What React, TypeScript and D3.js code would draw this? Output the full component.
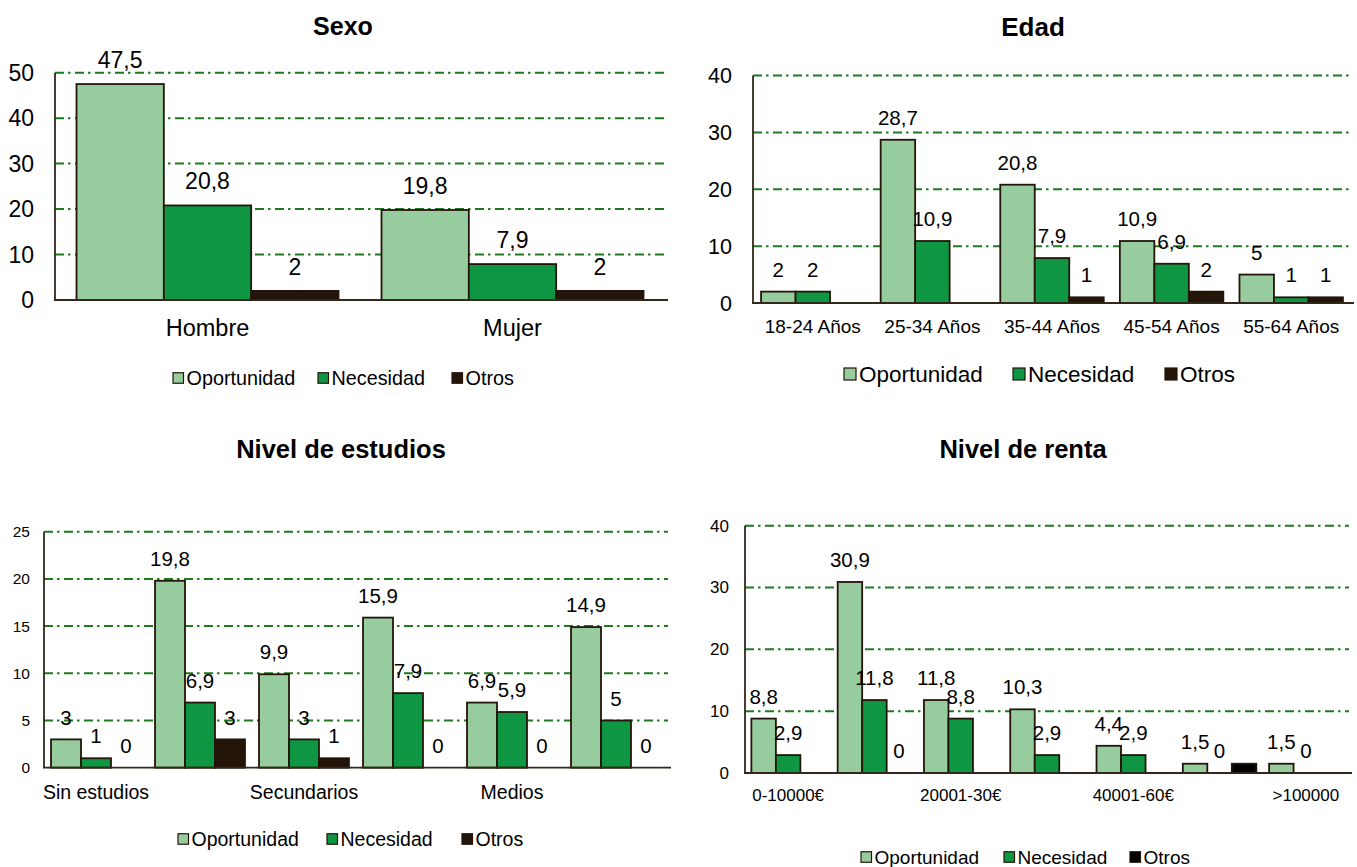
import React from "react";
import * as d3 from "d3";

// ---------- DATA ----------
const seriesNames = ["Oportunidad", "Necesidad", "Otros"];

const sexoCategories = ["Hombre", "Mujer"];
const sexoOportunidad = [47.5, 19.8];
const sexoNecesidad = [20.8, 7.9];
const sexoOtros = [2, 2];
const sexoTicks = [0, 10, 20, 30, 40, 50];

const edadCategories = ["18-24 Años", "25-34 Años", "35-44 Años", "45-54 Años", "55-64 Años"];
const edadOportunidad = [2, 28.7, 20.8, 10.9, 5];
const edadNecesidad = [2, 10.9, 7.9, 6.9, 1];
const edadOtros: (number | null)[] = [null, null, 1, 2, 1];
const edadTicks = [0, 10, 20, 30, 40];

const estudiosCategories = ["Sin estudios", "Primarios", "Secundarios", "Formación profesional", "Medios", "Superiores"];
const estudiosOportunidad = [3, 19.8, 9.9, 15.9, 6.9, 14.9];
const estudiosNecesidad = [1, 6.9, 3, 7.9, 5.9, 5];
const estudiosOtros = [0, 3, 1, 0, 0, 0];
const estudiosTicks = [0, 5, 10, 15, 20, 25];

const rentaCategories = ["0-10000€", "10001-20000€", "20001-30€", "30001-40000€", "40001-60€", "60001-100000€", ">100000"];
const rentaOportunidad = [8.8, 30.9, 11.8, 10.3, 4.4, 1.5, 1.5];
const rentaNecesidad = [2.9, 11.8, 8.8, 2.9, 2.9, 0, 0];
const rentaOtros: (number | null)[] = [null, 0, null, null, null, 1.5, null];
const rentaUnlabeled = ["2:5"]; // Otros bar in 60001-100000€ has no data label
const rentaTicks = [0, 10, 20, 30, 40];

// ---------- STYLE ----------
const FONT = "'Liberation Sans', Arial, Helvetica, sans-serif";
const C_OP = "#97cc9e";
const C_NEC = "#0f9642";
const C_OTR = "#231509";
const C_STROKE = "#231509";
const C_GRID = "#1f7a1f";
const C_AXIS = "#33261a";

type PanelProps = {
  title: string;
  titleX: number;
  titleY: number;
  titleSize: number;
  categories: string[];
  series: (number | null)[][];
  colors: string[];
  ticks: number[];
  showCat: (i: number) => boolean;
  hideLabels?: string[];
  x0: number;
  x1: number;
  yTop: number;
  yBottom: number;
  pad: number;
  tickSize: number;
  tickRight: number;
  labelSize: number;
  labelOffset: number;
  catSize: number;
  catY: number;
  legendSize: number;
  legendY: number;
  legendSq: number;
  legendX: number[];
  legendTextGap: number;
};

const fmt = (v: number) => String(v).replace(".", ",");

function Panel(p: PanelProps) {
  const yMax = p.ticks[p.ticks.length - 1];
  const y = d3.scaleLinear().domain([0, yMax]).range([p.yBottom, p.yTop]);
  const xb = d3
    .scaleBand<string>()
    .domain(p.categories)
    .range([p.x0, p.x1])
    .paddingInner(p.pad)
    .paddingOuter(p.pad / 2);
  const xs = d3
    .scaleBand<string>()
    .domain(seriesNames)
    .range([0, xb.bandwidth()])
    .padding(0);
  const hide = new Set(p.hideLabels || []);

  return (
    <g>
      <text
        x={p.titleX}
        y={p.titleY}
        textAnchor="middle"
        fontFamily={FONT}
        fontWeight="bold"
        fontSize={p.titleSize}
        fill="#000"
      >
        {p.title}
      </text>
      {/* gridlines */}
      {p.ticks
        .filter((t) => t > 0)
        .map((t) => (
          <line
            key={"g" + t}
            x1={p.x0}
            x2={p.x1}
            y1={y(t)}
            y2={y(t)}
            stroke={C_GRID}
            strokeWidth={2}
            strokeDasharray="9,4,2.5,4.5"
          />
        ))}
      {/* tick labels */}
      {p.ticks.map((t) => (
        <text
          key={"t" + t}
          x={p.tickRight}
          y={y(t)}
          dy="0.35em"
          textAnchor="end"
          fontFamily={FONT}
          fontSize={p.tickSize}
          fill="#000"
        >
          {t}
        </text>
      ))}
      {/* bars */}
      {p.categories.map((c, ci) =>
        p.series.map((s, si) => {
          const v = s[ci];
          if (v === null || v === undefined || v <= 0) return null;
          const bx = (xb(c) as number) + (xs(seriesNames[si]) as number);
          return (
            <rect
              key={"b" + ci + "-" + si}
              x={bx}
              y={y(v)}
              width={xs.bandwidth()}
              height={y(0) - y(v)}
              fill={p.colors[si]}
              stroke={C_STROKE}
              strokeWidth={1.8}
            />
          );
        })
      )}
      {/* axes */}
      <line x1={p.x0} x2={p.x0} y1={p.yTop} y2={p.yBottom} stroke={C_AXIS} strokeWidth={1.8} />
      <line x1={p.x0 - 1} x2={p.x1 + 3} y1={p.yBottom} y2={p.yBottom} stroke={C_AXIS} strokeWidth={1.8} />
      {/* data labels */}
      {p.categories.map((c, ci) =>
        p.series.map((s, si) => {
          const v = s[ci];
          if (v === null || v === undefined) return null;
          if (hide.has(si + ":" + ci)) return null;
          const cx = (xb(c) as number) + (xs(seriesNames[si]) as number) + xs.bandwidth() / 2;
          return (
            <text
              key={"l" + ci + "-" + si}
              x={cx}
              y={y(v) - p.labelOffset}
              dy="0.35em"
              textAnchor="middle"
              fontFamily={FONT}
              fontSize={p.labelSize}
              fill="#000"
            >
              {fmt(v)}
            </text>
          );
        })
      )}
      {/* category labels */}
      {p.categories.map((c, ci) =>
        p.showCat(ci) ? (
          <text
            key={"c" + ci}
            x={(xb(c) as number) + xb.bandwidth() / 2}
            y={p.catY}
            dy="0.35em"
            textAnchor="middle"
            fontFamily={FONT}
            fontSize={p.catSize}
            fill="#000"
          >
            {c}
          </text>
        ) : null
      )}
      {/* legend */}
      {seriesNames.map((n, i) => (
        <g key={"lg" + i}>
          <rect
            x={p.legendX[i]}
            y={p.legendY - p.legendSq / 2}
            width={p.legendSq}
            height={p.legendSq}
            fill={p.colors[i]}
            stroke={C_STROKE}
            strokeWidth={1.2}
          />
          <text
            x={p.legendX[i] + p.legendSq + p.legendTextGap}
            y={p.legendY}
            dy="0.35em"
            fontFamily={FONT}
            fontSize={p.legendSize}
            fill="#000"
          >
            {n}
          </text>
        </g>
      ))}
    </g>
  );
}

export default function App() {
  return (
    <svg
      width={1357}
      height={867}
      style={{ position: "absolute", left: 0, top: 0, background: "#fff" }}
    >
      <rect x={0} y={0} width={1357} height={867} fill="#fff" />
      <Panel
        title="Sexo"
        titleX={343}
        titleY={35}
        titleSize={25}
        categories={sexoCategories}
        series={[sexoOportunidad, sexoNecesidad, sexoOtros]}
        colors={[C_OP, C_NEC, C_OTR]}
        ticks={sexoTicks}
        showCat={() => true}
        x0={55}
        x1={665}
        yTop={72.7}
        yBottom={300}
        pad={0.141}
        tickSize={23}
        tickRight={34}
        labelSize={23}
        labelOffset={24}
        catSize={23.5}
        catY={328}
        legendSize={19.8}
        legendY={378}
        legendSq={10.5}
        legendX={[173, 318, 452]}
        legendTextGap={3}
      />
      <Panel
        title="Edad"
        titleX={1033}
        titleY={36}
        titleSize={26}
        categories={edadCategories}
        series={[edadOportunidad, edadNecesidad, edadOtros]}
        colors={[C_OP, C_NEC, C_OTR]}
        ticks={edadTicks}
        showCat={() => true}
        x0={753}
        x1={1351}
        yTop={75.5}
        yBottom={303}
        pad={0.135}
        tickSize={21.5}
        tickRight={732}
        labelSize={20.5}
        labelOffset={22}
        catSize={19}
        catY={326}
        legendSize={22.5}
        legendY={374}
        legendSq={12}
        legendX={[844, 1013, 1165]}
        legendTextGap={3}
      />
      <Panel
        title="Nivel de estudios"
        titleX={341}
        titleY={458}
        titleSize={25.5}
        categories={estudiosCategories}
        series={[estudiosOportunidad, estudiosNecesidad, estudiosOtros]}
        colors={[C_OP, C_NEC, C_OTR]}
        ticks={estudiosTicks}
        showCat={(i) => i % 2 === 0}
        x0={44}
        x1={668}
        yTop={531.7}
        yBottom={767.7}
        pad={0.135}
        tickSize={15.5}
        tickRight={30}
        labelSize={20.5}
        labelOffset={22}
        catSize={19.5}
        catY={792}
        legendSize={19.5}
        legendY={839}
        legendSq={10.5}
        legendX={[178, 327, 462]}
        legendTextGap={3}
      />
      <Panel
        title="Nivel de renta"
        titleX={1023}
        titleY={458}
        titleSize={25.5}
        categories={rentaCategories}
        series={[rentaOportunidad, rentaNecesidad, rentaOtros]}
        colors={[C_OP, C_NEC, "#000000"]}
        ticks={rentaTicks}
        showCat={(i) => i % 2 === 0}
        hideLabels={rentaUnlabeled}
        x0={745}
        x1={1349}
        yTop={525.7}
        yBottom={773}
        pad={0.148}
        tickSize={17}
        tickRight={729}
        labelSize={20.5}
        labelOffset={22}
        catSize={17}
        catY={795}
        legendSize={19}
        legendY={857}
        legendSq={10.5}
        legendX={[861, 1004, 1130]}
        legendTextGap={3}
      />
    </svg>
  );
}
